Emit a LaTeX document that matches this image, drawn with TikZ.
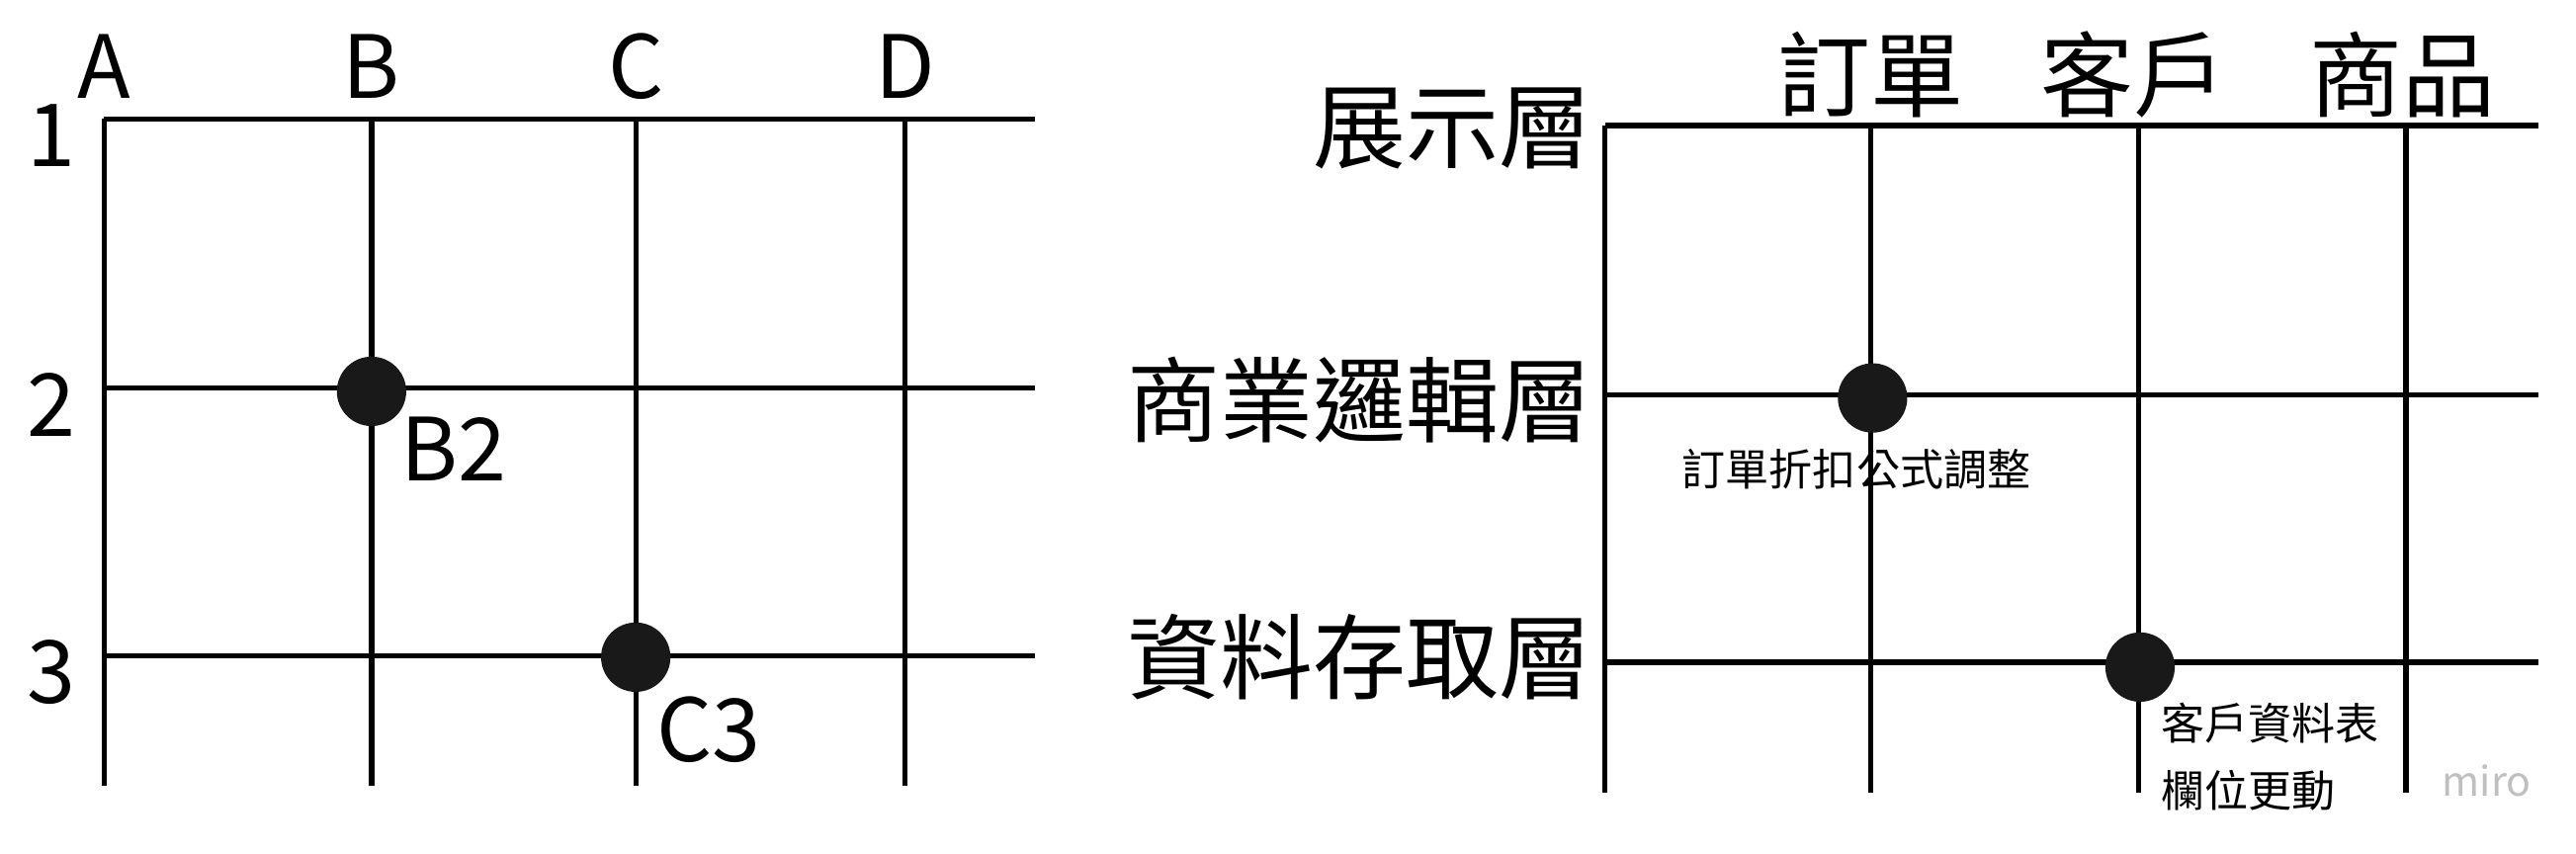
\documentclass[tikz,border=0pt]{standalone}
\usepackage{fontspec}
\setmainfont{Noto Sans CJK TC}
\begin{document}
\begin{tikzpicture}[x=0.01cm,y=-0.01cm,
	gridline/.style={line width=0.9pt,black},
	dot/.style={circle,fill=black!90,minimum size=0.42cm,inner sep=0pt},
	biglabel/.style={font=\fontsize{15}{16}\selectfont},
	cjklabel/.style={font=\fontsize{16}{18}\selectfont},
	smalllabel/.style={font=\fontsize{7.5}{9}\selectfont,inner sep=0pt}]
	\useasboundingbox (0,0) rectangle (1560,517);
	% left grid
	\foreach \x/\c in {63/A,225/B,385/C,548/D}{
		\draw[gridline] (\x,72) -- (\x,476);
		\node[biglabel] (col\c) at (\x,40) {\c};
	}
	\foreach \y/\r in {72/1,235/2,397/3}{
		\draw[gridline] (63,\y) -- (627,\y);
		\node[biglabel] (row\r) at (31,\y+10) {\r};
	}
	\node[dot] (b2) at (225,237) {};
	\node[dot] (c3) at (385,398) {};
	\node[biglabel,anchor=west,inner sep=0pt] (lb2) at (242,272) {B2};
	\node[biglabel,anchor=west,inner sep=0pt] (lc3) at (397,442) {C3};
	% right grid
	\foreach \x in {972,1133,1295,1457}
		\draw[gridline] (\x,76) -- (\x,480);
	\foreach \y in {76,239,401}
		\draw[gridline] (972,\y) -- (1537,\y);
	\node[cjklabel] (order) at (1133,45) {訂單};
	\node[cjklabel] (cust) at (1292,45) {客戶};
	\node[cjklabel] (prod) at (1455,45) {商品};
	\node[cjklabel,anchor=east,inner sep=0pt] (ui) at (965,78) {展示層};
	\node[cjklabel,anchor=east,inner sep=0pt] (biz) at (965,242) {商業邏輯層};
	\node[cjklabel,anchor=east,inner sep=0pt] (data) at (965,398) {資料存取層};
	\node[dot] (d1) at (1134,241) {};
	\node[dot] (d2) at (1296,404) {};
	\node[smalllabel,anchor=west] (t1) at (1018,284) {訂單折扣公式調整};
	\node[smalllabel,anchor=west] (t2) at (1308,438) {客戶資料表};
	\node[smalllabel,anchor=west] (t3) at (1308,479) {欄位更動};
	\node[font=\fontsize{7}{8}\selectfont,text=black!25] (miro) at (1506,473) {miro};
\end{tikzpicture}
\end{document}
